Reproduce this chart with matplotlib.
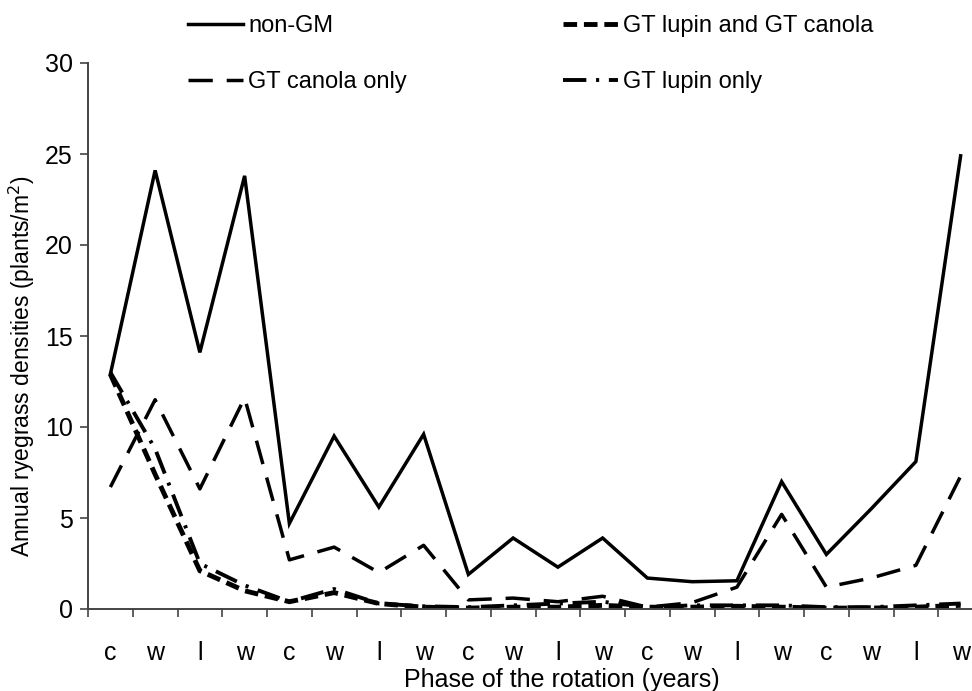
import matplotlib
matplotlib.use("Agg")
import matplotlib.pyplot as plt

plt.rcParams['font.family'] = ['Liberation Sans', 'DejaVu Sans']

phases = ['c', 'w', 'l', 'w', 'c', 'w', 'l', 'w', 'c', 'w',
          'l', 'w', 'c', 'w', 'l', 'w', 'c', 'w', 'l', 'w']
non_gm = [12.9, 24.1, 14.1, 23.8, 4.7, 9.5, 5.6, 9.6, 1.9, 3.9,
          2.3, 3.9, 1.7, 1.5, 1.55, 7.0, 3.0, 5.5, 8.1, 24.9]
gt_both = [12.9, 7.4, 2.1, 1.0, 0.4, 0.9, 0.3, 0.1, 0.05, 0.1,
           0.1, 0.2, 0.1, 0.1, 0.15, 0.1, 0.05, 0.05, 0.1, 0.2]
gt_canola = [6.7, 11.5, 6.6, 11.6, 2.7, 3.4, 2.0, 3.5, 0.5, 0.6,
             0.4, 0.7, 0.1, 0.35, 1.2, 5.2, 1.2, 1.7, 2.4, 7.3]
gt_lupin = [13.0, 8.8, 2.5, 1.3, 0.4, 1.1, 0.3, 0.15, 0.1, 0.2,
            0.3, 0.4, 0.1, 0.2, 0.2, 0.2, 0.1, 0.1, 0.2, 0.3]
labels = ['non-GM', 'GT lupin and GT canola', 'GT canola only', 'GT lupin only']

fig = plt.figure(figsize=(9.72, 6.91), dpi=100)
ax = fig.add_axes([88/972, 1-609/691, 895/972, (609-63)/691])

x = list(range(len(phases)))
l1, = ax.plot(x, non_gm, color='black', lw=2.5, solid_joinstyle='miter')
l2, = ax.plot(x, gt_both, color='black', lw=3.5, linestyle=(0, (2.8, 1.4)))
l3, = ax.plot(x, gt_canola, color='black', lw=2.5, linestyle=(0, (7, 4)))
l4, = ax.plot(x, gt_lupin, color='black', lw=2.8, linestyle=(0, (6, 2.5, 0.8, 2.5)))

ax.set_xlim(-0.5, 19.5)
ax.set_ylim(0, 30)
ax.set_yticks([0, 5, 10, 15, 20, 25, 30])
ax.set_xticks([i - 0.5 for i in range(21)])
ax.set_xticklabels([])
ax.set_xticks(x, minor=True)
ax.set_xticklabels(phases, minor=True)
ax.tick_params(axis='x', which='minor', length=0, pad=23, labelsize=18)
ax.tick_params(axis='x', which='major', length=6, width=1.2, color='#444444')
ax.tick_params(axis='y', length=6, width=1.2, color='#444444', labelsize=18, pad=5)
for s in ['top', 'right']:
    ax.spines[s].set_visible(False)
for s in ['left', 'bottom']:
    ax.spines[s].set_color('#444444')
    ax.spines[s].set_linewidth(1.4)

fig.text(562/972, 1-680/691, 'Phase of the rotation (years)', ha='center', va='center', fontsize=18)
fig.text(22/972, 1-366/691, 'Annual ryegrass densities (plants/m$^2$)', ha='center', va='center',
         rotation=90, fontsize=16.5)

kw = dict(frameon=False, fontsize=17, handlelength=2.35, handletextpad=0.2,
          borderpad=0, borderaxespad=0, labelspacing=1.45)
leg1 = fig.legend([l1, l3], [labels[0], labels[2]], loc='upper left',
                  bbox_to_anchor=(188/972, 1-15/691), **kw)
leg2 = fig.legend([l2, l4], [labels[1], labels[3]], loc='upper left',
                  bbox_to_anchor=(563/972, 1-15/691), **kw)

fig.savefig('out.png', dpi=100)
